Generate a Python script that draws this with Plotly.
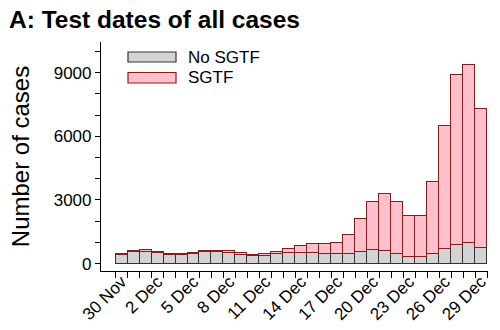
import plotly.graph_objects as go

# Daily counts by test date (31 days)
day_index = list(range(31))
tick_positions = [0, 3, 6, 9, 12, 15, 18, 21, 24, 27, 30]
tick_labels = ["30 Nov", "2 Dec", "5 Dec", "8 Dec", "11 Dec", "14 Dec",
               "17 Dec", "20 Dec", "23 Dec", "26 Dec", "29 Dec"]

total_cases = [450, 615, 620, 555, 440, 435, 510, 615, 615, 575, 495,
               410, 435, 560, 710, 835, 930, 910, 985, 1327, 2086,
               2890, 3270, 2920, 2257, 2257, 3839, 6494, 8911, 9370, 7300]
no_sgtf = [400, 555, 555, 495, 390, 385, 475, 555, 555, 495, 410,
           350, 355, 440, 490, 490, 520, 445, 435, 465, 550,
           630, 600, 440, 313, 290, 474, 692, 900, 948, 758]
sgtf = [t - n for t, n in zip(total_cases, no_sgtf)]

FONT = "Liberation Sans, Arial, sans-serif"
GREY_FILL, GREY_LINE = "#d3d3d3", "#333333"
PINK_FILL, PINK_LINE = "#ffc0cb", "#8b1a1a"

fig = go.Figure()
fig.add_trace(go.Bar(x=day_index, y=no_sgtf, name="No SGTF", width=1,
                     marker=dict(color=GREY_FILL,
                                 line=dict(color=GREY_LINE, width=1.2))))
fig.add_trace(go.Bar(x=day_index, y=sgtf, name="SGTF", width=1,
                     marker=dict(color=PINK_FILL,
                                 line=dict(color=PINK_LINE, width=1.2))))

# plot area in pixels (for placing the hand-drawn legend)
L, R, T, B = 101, 488, 42, 271
W, H = R - L, B - T


def px(x):
    return (x - L) / W


def py(y):
    return (B - y) / H


shapes, annotations = [], []
legend_items = [("No SGTF", GREY_FILL, GREY_LINE, 52, 62),
                ("SGTF", PINK_FILL, PINK_LINE, 72.5, 83)]
for name, fill, line, y0, y1 in legend_items:
    shapes.append(dict(type="rect", xref="paper", yref="paper",
                       x0=px(128), x1=px(176), y0=py(y1), y1=py(y0),
                       fillcolor=fill, line=dict(color=line, width=1.2)))
    annotations.append(dict(xref="paper", yref="paper", x=px(186),
                            y=py((y0 + y1) / 2), text=name, showarrow=False,
                            xanchor="left", yanchor="middle",
                            font=dict(size=17, color="black", family=FONT)))

fig.update_layout(
    width=500, height=330,
    margin=dict(l=L, r=500 - R, t=T, b=330 - B),
    barmode="stack", bargap=0,
    showlegend=False,
    plot_bgcolor="white", paper_bgcolor="white",
    font=dict(family=FONT, size=17, color="black"),
    title=dict(text="<b>A: Test dates of all cases</b>", x=9 / 500,
               xanchor="left", y=0.966, yanchor="top",
               font=dict(size=24.5, family=FONT, color="black")),
    shapes=shapes, annotations=annotations,
)
fig.update_xaxes(
    automargin=False,
    range=[-1.72, 30.58], showgrid=False, zeroline=False,
    showline=True, linecolor="black", linewidth=1.2,
    tickmode="array", tickvals=tick_positions, ticktext=tick_labels,
    ticks="outside", ticklen=1, tickcolor="rgba(0,0,0,0)", tickangle=-45,
    ticklabelstandoff=-8,
    tickfont=dict(size=17, color="black"),
    minor=dict(tickmode="array", tickvals=[i - 0.5 for i in range(32)],
               ticks="outside", ticklen=6, tickwidth=1.2, tickcolor="black"),
)
fig.update_yaxes(
    automargin=False,
    range=[-350, 10450], showgrid=False, zeroline=False,
    showline=True, linecolor="black", linewidth=1.2,
    tickmode="array", tickvals=[0, 3000, 6000, 9000],
    ticks="outside", ticklen=5, tickwidth=1.2, tickcolor="black",
    tickfont=dict(size=17, color="black"),
    minor=dict(dtick=1000, tick0=0, ticks="outside", ticklen=5,
               tickwidth=1.2, tickcolor="black"),
    title=dict(text="Number of cases", standoff=17,
               font=dict(size=24, color="black")),
)

fig.write_html("out.html")
